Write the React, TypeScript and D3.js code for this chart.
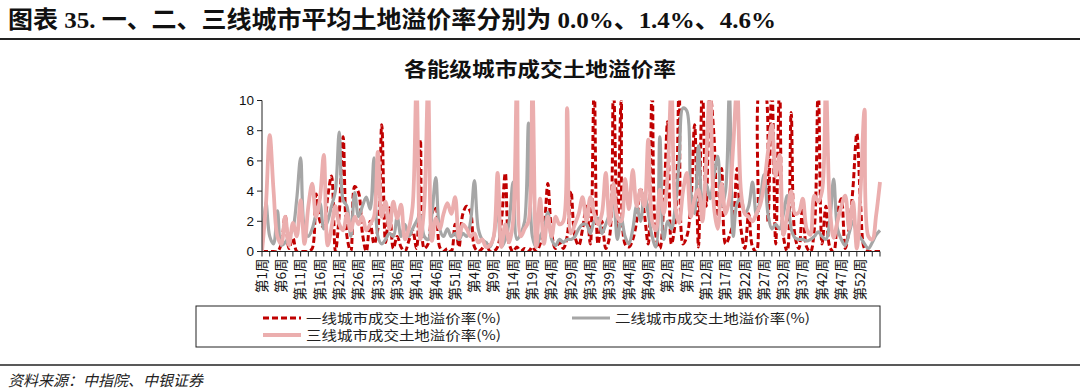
import * as d3 from "d3";

// week labels: three full years plus the first weeks of the fourth
const weekNo = [...d3.range(1, 53), ...d3.range(1, 53), ...d3.range(1, 53), ...d3.range(1, 6)];
const categories = weekNo.map((w) => `第${w}周`);

// 一线城市成交土地溢价率 (%)
const tier1 = [
  0, 0, 0, 0, 0, 0.5, 2.4, 0.2, 0.9, 0, 0, 0, 0, 0.2, 3.8, 2.0, 1.6, 3.6, 5.0, 0,
  2.5, 7.6, 1.0, 0, 4.3, 3.9, 1.2, 0, 2.0, 0.5, 1.5, 8.4, 0.6, 2.9, 0.2, 1.0, 0.3, 0, 0.7, 1.4,
  0.2, 7.4, 0.2, 0.5, 2.5, 3.0, 0.3, 0, 0.2, 0, 1.8, 0.3, 2.5, 3.0, 2.6, 0.3, 0, 0.2, 0.6, 0,
  0, 0.3, 2.0, 5.2, 0.5, 0, 0.3, 0, 0.2, 0, 0.3, 0, 0.5, 1.5, 4.5, 1.2, 0.2, 0.6, 0.2, 1.0,
  4.0, 1.0, 0.4, 1.5, 3.0, 0.5, 11, 0.5, 2.0, 0.2, 1.0, 11, 1.0, 10, 0.5, 0.3, 0.8, 2.0, 4.2, 2.5,
  0.5, 11, 1.0, 0.2, 3.0, 8.6, 0.5, 2.0, 11, 0.5, 1.0, 3.0, 8.4, 0.3, 11, 3.0, 10.5, 7.7, 2.0, 5.5,
  0.5, 1.0, 2.0, 5.5, 1.5, 0.2, 2.5, 0.3, 0, 11, 11, 2.0, 11, 0.5, 11, 1.0, 0, 9.2, 1.0, 0.2,
  3.2, 0.3, 0, 1.5, 11, 0.5, 3.0, 0.3, 0, 2.5, 3.5, 0.2, 1.5, 4.2, 7.8, 3.0, 0.2, 0, 0, 0,
  0,
];

// 二线城市成交土地溢价率 (%)
const tier2 = [
  0, 3.3, 1.0, 0.5, 2.7, 0.4, 0.6, 1.0, 1.5, 3.5, 6.2, 1.5, 1.0, 1.5, 2.5, 3.2, 1.5, 2.0, 3.0, 4.0,
  7.9, 3.4, 3.0, 1.0, 3.9, 2.3, 3.0, 3.6, 2.8, 6.2, 1.0, 0.5, 0.8, 1.2, 1.0, 2.3, 1.0, 1.8, 1.0, 1.5,
  2.0, 2.4, 1.0, 0.8, 2.5, 4.9, 1.5, 1.0, 1.5, 1.0, 1.2, 0.8, 1.2, 1.0, 2.0, 4.7, 1.5, 0.8, 0.6, 0.3,
  1.0, 3.0, 0.3, 0.8, 2.0, 4.6, 0.8, 1.2, 2.0, 8.5, 1.0, 0.3, 1.0, 1.5, 2.6, 0.8, 0.4, 0.8, 0.6, 0.8,
  0.8, 1.0, 1.5, 1.8, 1.8, 1.2, 2.0, 2.2, 1.2, 1.8, 2.5, 3.3, 0.8, 2.2, 1.0, 0.5, 1.5, 3.0, 2.0, 3.8,
  2.5, 1.0, 0.3, 7.6, 0.8, 2.0, 1.5, 3.0, 6.0, 9.5, 9.3, 4.0, 2.5, 7.0, 3.0, 4.5, 3.5, 5.0, 6.3, 3.0,
  4.0, 10.5, 1.0, 3.2, 3.5, 2.5, 3.0, 4.6, 2.4, 3.5, 5.1, 2.5, 1.5, 1.8, 1.5, 2.5, 3.7, 1.5, 0.9, 0.8,
  0.8, 0.7, 0.8, 1.0, 1.3, 1.0, 0.8, 2.0, 4.8, 1.5, 0.8, 0.4, 1.2, 2.0, 1.2, 0.9, 0.5, 0.2, 0.6, 1.1,
  1.4,
];

// 三线城市成交土地溢价率 (%)
const tier3 = [
  0, 3.0, 7.7, 4.0, 1.0, 0.5, 2.3, 0.4, 1.9, 1.0, 3.4, 0.5, 3.0, 4.5, 2.3, 3.5, 6.4, 0.4, 1.6, 3.0,
  1.8, 1.4, 2.5, 1.4, 2.3, 1.8, 2.3, 1.4, 1.8, 2.3, 6.6, 2.3, 3.3, 1.5, 3.3, 2.2, 3.1, 0.8, 1.5, 3.0,
  11, 0.8, 3.0, 11, 0.7, 2.2, 1.5, 2.5, 3.2, 2.5, 3.6, 0.9, 1.8, 1.5, 1.0, 1.2, 0.6, 0.8, 0.3, 0.4,
  1.0, 5.2, 0.3, 1.8, 0.6, 2.0, 11, 1.0, 1.5, 2.0, 11, 0.3, 3.5, 0.5, 2.3, 1.0, 2.3, 1.8, 2.0, 9.5,
  1.2, 1.8, 2.5, 3.6, 2.0, 3.6, 2.5, 1.8, 2.5, 5.2, 1.8, 4.5, 2.3, 2.0, 4.8, 2.8, 5.4, 3.0, 4.1, 3.0,
  7.4, 2.0, 1.4, 4.1, 2.5, 5.0, 11, 3.0, 1.9, 4.0, 5.2, 2.3, 3.5, 4.1, 2.0, 6.0, 11, 3.0, 1.5, 4.5,
  2.5, 3.5, 7.0, 11, 4.0, 2.5, 2.3, 2.0, 2.5, 3.1, 4.5, 6.6, 8.4, 5.0, 6.4, 1.1, 2.5, 4.0, 2.5, 2.6,
  3.5, 1.5, 1.1, 3.7, 3.3, 4.0, 11, 3.0, 0.9, 2.0, 3.0, 3.7, 1.5, 3.3, 0.2, 4.2, 9.4, 1.0, 0.8, 2.4,
  4.6,
];

const yTicks = [0, 2, 4, 6, 8, 10];

const seriesNames = ["一线城市成交土地溢价率(%)", "二线城市成交土地溢价率(%)", "三线城市成交土地溢价率(%)"];

const cjk = '"Noto Sans CJK SC", "Liberation Sans", sans-serif';
const latin = '"Liberation Sans", Arial, "Noto Sans CJK SC", sans-serif';

export default function App() {
  const width = 1080;
  const height = 391;
  const left = 262, right = 880, top = 100.5, bottom = 251.5;

  const x = d3.scalePoint<number>().domain(d3.range(categories.length)).range([left, right]);
  const y = d3.scaleLinear().domain([0, 10]).range([bottom, top]);

  const line = d3.line<number>()
    .x((d, i) => x(i)!)
    .y((d) => y(d))
    .curve(d3.curveCatmullRom.alpha(0.5));

  const tickIdx = d3.range(0, categories.length, 2);
  const labelIdx = d3.range(0, categories.length - 1, 5);

  const styles = [
    { color: "#C00000", width: 3, dash: "6 3" },
    { color: "#A6A6A6", width: 3.2, dash: null },
    { color: "#EBAEAE", width: 3.8, dash: null },
  ];
  const data = [tier1, tier2, tier3];

  return (
    <svg width={width} height={height} style={{ position: "absolute", left: 0, top: 0, background: "#fff" }}>
      <defs>
        <clipPath id="plot">
          <rect x={left} y={top} width={right - left + 4} height={bottom - top} />
        </clipPath>
      </defs>

      {/* header */}
      <text x={8} y={28} fontFamily={'"Liberation Serif", "Noto Sans CJK SC", serif'} fontWeight="bold"
        fontSize={24} textLength={768} lengthAdjust="spacingAndGlyphs" fill="#111">
        图表 35. 一、二、三线城市平均土地溢价率分别为 0.0%、1.4%、4.6%
      </text>
      <line x1={0} x2={width} y1={39} y2={39} stroke="#222" strokeWidth={2} />

      <text x={540} y={77} textAnchor="middle" fontFamily={cjk} fontWeight="bold" fontSize={20}
        textLength={272} lengthAdjust="spacingAndGlyphs" fill="#111">
        各能级城市成交土地溢价率
      </text>

      {/* series */}
      <g clipPath="url(#plot)">
        {data.map((s, k) => (
          <path key={k} d={line(s)!} fill="none" stroke={styles[k].color} strokeWidth={styles[k].width}
            strokeDasharray={styles[k].dash ?? undefined} strokeLinejoin="round" />
        ))}
      </g>

      {/* y axis */}
      <line x1={left} x2={left} y1={top} y2={bottom} stroke="#222" strokeWidth={1} />
      {yTicks.map((t) => (
        <g key={t}>
          <line x1={left - 5} x2={left} y1={y(t)} y2={y(t)} stroke="#222" />
          <text x={left - 8} y={y(t)} dy="0.35em" textAnchor="end" fontFamily={latin} fontSize={13.5} fill="#111">
            {t}
          </text>
        </g>
      ))}

      {/* x axis */}
      <line x1={left} x2={right} y1={bottom} y2={bottom} stroke="#222" strokeWidth={1} />
      {tickIdx.map((i) => (
        <line key={i} x1={x(i)} x2={x(i)} y1={bottom} y2={bottom + 5} stroke="#222" />
      ))}
      {labelIdx.map((i) => (
        <text key={i} transform={`translate(${x(i)},${bottom + 7}) rotate(-90)`} textAnchor="end" dy="0.35em"
          fontFamily={cjk} fontSize={13.5} fill="#111">
          {categories[i]}
        </text>
      ))}

      {/* legend */}
      <rect x={196} y={306} width={684} height={41} fill="none" stroke="#222" strokeWidth={1} />
      {[
        { k: 0, lx: 263, ly: 318 },
        { k: 1, lx: 572, ly: 318 },
        { k: 2, lx: 263, ly: 335 },
      ].map(({ k, lx, ly }) => (
        <g key={k}>
          <line x1={lx} x2={lx + 38} y1={ly} y2={ly} stroke={styles[k].color} strokeWidth={styles[k].width}
            strokeDasharray={styles[k].dash ?? undefined} />
          <text x={lx + 43} y={ly} dy="0.35em" fontFamily={cjk} fontSize={13} fill="#222"
            textLength={195} lengthAdjust="spacingAndGlyphs">
            {seriesNames[k]}
          </text>
        </g>
      ))}

      {/* footer */}
      <line x1={0} x2={width} y1={365} y2={365} stroke="#222" strokeWidth={1.5} />
      <text x={8} y={386} fontFamily={cjk} fontStyle="italic" fontSize={15} fill="#222">
        资料来源：中指院、中银证券
      </text>
    </svg>
  );
}
